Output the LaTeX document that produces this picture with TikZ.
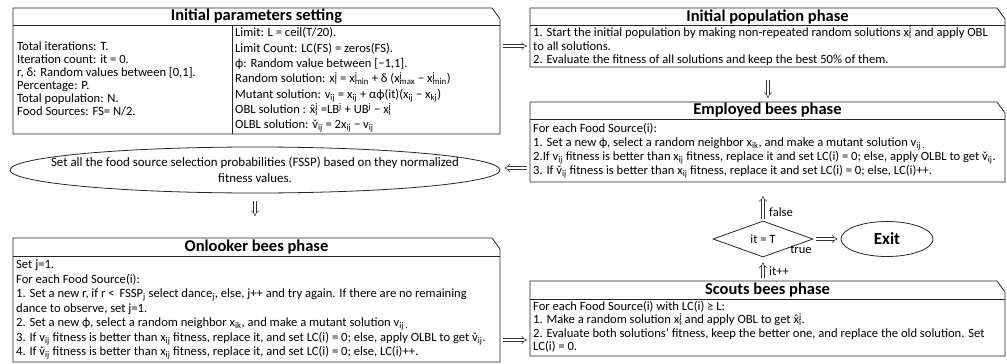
\documentclass[tikz,border=0pt]{standalone}
\usepackage{fontspec}
\setmainfont{Carlito}
\usetikzlibrary{arrows.meta,shapes.geometric,calc}

% stacked superscript/subscript pair, e.g. x^j_i
\newcommand\supsub[2]{\rlap{\textsuperscript{#1}}\textsubscript{#2}}
\newcommand\sbs[1]{\textsubscript{#1}}
% letter with a spacing accent centred over it
\newsavebox\accbase
\newcommand\accd[2]{\sbox\accbase{#2}\rlap{\makebox[\wd\accbase]{\smash{#1}}}\usebox\accbase}
\newcommand\xh{\accd{ˆ}{x}}
\newcommand\vc{\accd{ˇ}{v}}

% outline of a phase box: chamfered top-right corner and a title bar
\newcommand\phaseframe[2]{%
  \draw[outline] (#1.north west) -- ([xshift=-8pt]#1.north east)
    -- ([yshift=-11pt]#1.north east) -- (#1.south east) -- (#1.south west) -- cycle;
  \draw[outline] ([yshift=-#2]#1.north west) -- ([yshift=-#2]#1.north east);}

\begin{document}
\begin{tikzpicture}[x=1pt,y=-1pt,
  frame/.style={draw=none, inner sep=0pt, outer sep=0pt, anchor=north west},
  outline/.style={line width=0.8pt, draw=black!85},
  ttl/.style={font=\fontsize{16.5}{18}\selectfont\bfseries, inner sep=0pt},
  txt/.style={font=\fontsize{12.6}{#1}\selectfont, align=left, inner sep=0pt, anchor=west},
  txt/.default=14.5,
  dbl/.style={draw=black!80, double, double distance=2.4pt, line width=0.55pt, -{Implies}},
  lbl/.style={font=\fontsize{12.6}{14}\selectfont, inner sep=0pt},
]
\useasboundingbox (0,0) rectangle (1007,364);

% ---------- box frames ----------
\node[frame, minimum width=487pt, minimum height=126pt] (pinit) at (13,8) {};
\node[frame, minimum width=475pt, minimum height=59pt]  (ipop)  at (530,8) {};
\node[frame, minimum width=475pt, minimum height=80pt]  (emp)   at (530,102) {};
\node[frame, minimum width=487pt, minimum height=124pt] (onl)   at (13,238) {};
\node[frame, minimum width=475pt, minimum height=75pt]  (sco)   at (530,281) {};

\phaseframe{pinit}{17pt}
\phaseframe{ipop}{17pt}
\phaseframe{emp}{17pt}
\phaseframe{onl}{18pt}
\phaseframe{sco}{18pt}
\draw[outline] ([xshift=219pt,yshift=-17pt]pinit.north west) -- ([xshift=219pt]pinit.south west);

% ---------- titles ----------
\node[ttl] (pinit-t) at ($(pinit.north)+(0,8.5)$) {Initial parameters setting};
\node[ttl] (ipop-t)  at ($(ipop.north)+(0,8.5)$)  {Initial population phase};
\node[ttl] (emp-t)   at ($(emp.north)+(0,8.5)$)   {Employed bees phase};
\node[ttl] (onl-t)   at ($(onl.north)+(0,9)$)     {Onlooker bees phase};
\node[ttl] (sco-t)   at ($(sco.north)+(0,9)$)     {Scouts bees phase};

% ---------- box contents ----------
\node[txt=13] (pinit-l) at (17,79) {Total iterations: T.\\
Iteration count: it = 0.\\
r, δ: Random values between [0,1].\\
Percentage: P.\\
Total population: N.\\
Food Sources: FS= N/2.};

\node[txt=15.3] (pinit-r) at (235,80) {Limit: L = ceil(T/20).\\
Limit Count: LC(FS) = zeros(FS).\\
ϕ: Random value between [−1,1].\\
Random solution: x\supsub{j}{i} = x\supsub{j}{min} + δ (x\supsub{j}{max} − x\supsub{j}{min})\\
Mutant solution: v\sbs{ij} = x\sbs{ij} + αϕ(it)(x\sbs{ij} − x\sbs{kj})\\
OBL solution : \xh\supsub{j}{i} =LB\textsuperscript{j} + UB\textsuperscript{j} − x\supsub{j}{i}\\
OLBL solution: \vc\sbs{ij} = 2x\sbs{ij} − v\sbs{ij}};

\node[txt=13.2] (ipop-b) at (533,46) {1. Start the initial population by making non-repeated random solutions x\supsub{j}{i} and apply OBL\\
to all solutions.\\
2. Evaluate the fitness of all solutions and keep the best 50\% of them.};

\node[txt=14] (emp-b) at (533,150.5) {For each Food Source(i):\\
1. Set a new ϕ, select a random neighbor x\sbs{ik}, and make a mutant solution v\sbs{ij .}\\
2.If v\sbs{ij} fitness is better than x\sbs{ij} fitness, replace it and set LC(i) = 0; else, apply OLBL to get \vc\sbs{ij}.\\
3. If \vc\sbs{ij} fitness is better than x\sbs{ij} fitness, replace it and set LC(i) = 0; else, LC(i)++.};

\node[txt=14.5] (onl-b) at (16,309.5) {Set j=1.\\
For each Food Source(i):\\
1. Set a new r, if r <\, FSSP\sbs{j} select dance\sbs{j}, else, j++ and try again. If there are no remaining\\
dance to observe, set j=1.\\
2. Set a new ϕ, select a random neighbor x\sbs{ik}, and make a mutant solution v\sbs{ij .}\\
3. If v\sbs{ij} fitness is better than x\sbs{ij} fitness, replace it, and set LC(i) = 0; else, apply OLBL to get \vc\sbs{ij}.\\
4. If \vc\sbs{ij} fitness is better than x\sbs{ij} fitness, replace it, and set LC(i) = 0; else, LC(i)++.};

\node[txt=13.5] (sco-b) at (533,327) {For each Food Source(i) with LC(i) ≥ L:\\
1. Make a random solution x\supsub{j}{i} and apply OBL to get \xh\supsub{j}{i}.\\
2. Evaluate both solutions' fitness, keep the better one, and replace the old solution. Set\\
LC(i) = 0.};

% ---------- probability ellipse, decision and exit ----------
% negative inner xsep keeps the ellipse at its minimum size around the wide text
\node[draw=black!85, line width=0.8pt, ellipse, minimum width=490pt, minimum height=46pt,
  inner xsep=-50pt, inner ysep=-1pt,
  align=center, font=\fontsize{12.9}{16}\selectfont] (fssp) at (255,170)
  {Set all the food source selection probabilities (FSSP) based on they normalized\\fitness values.};

\node[draw=black!85, line width=0.8pt, diamond, minimum width=100pt, minimum height=36pt, aspect=2.8,
  inner sep=0pt, font=\fontsize{12.6}{14}\selectfont] (chk) at (763,239) {it = T};

\node[draw=black!85, line width=0.8pt, ellipse, minimum width=92pt, minimum height=35pt,
  font=\fontsize{17}{18}\selectfont\bfseries] (exit) at (887,239) {Exit};

% ---------- flow arrows ----------
\coordinate (yA) at (0,46);
\coordinate (yC) at (0,168);
\coordinate (yD) at (0,340);
\coordinate (xB) at (768,0);
\draw[dbl, shorten <=13pt, shorten >=4pt] (ipop.south -| xB) -- (emp.north -| xB);
\draw[dbl, shorten <=3pt, shorten >=3pt] (pinit.east |- yA) -- (ipop.west |- yA);
\draw[dbl, shorten <=3pt, shorten >=4pt] (emp.west |- yC) -- (fssp.east |- yC);
\draw[dbl, shorten <=8pt, shorten >=22pt] (fssp.south) -- (onl.north -| fssp.south);
\draw[dbl, shorten <=3pt, shorten >=3pt] (onl.east |- yD) -- (sco.west |- yD);
\draw[dbl, shorten <=3pt, shorten >=5pt] (sco.north -| chk.south) -- (chk.south);
\draw[dbl, shorten <=2pt, shorten >=14pt] (chk.north) -- (emp.south -| chk.north);
\draw[dbl, shorten <=3pt, shorten >=3pt] (chk.east) -- (exit.west);

\node[lbl, anchor=west] (l-false) at (769,212) {false};
\node[lbl, anchor=west] (l-it) at (769,271) {it++};
\node[lbl] (l-true) at (801,250) {true};
\end{tikzpicture}
\end{document}
